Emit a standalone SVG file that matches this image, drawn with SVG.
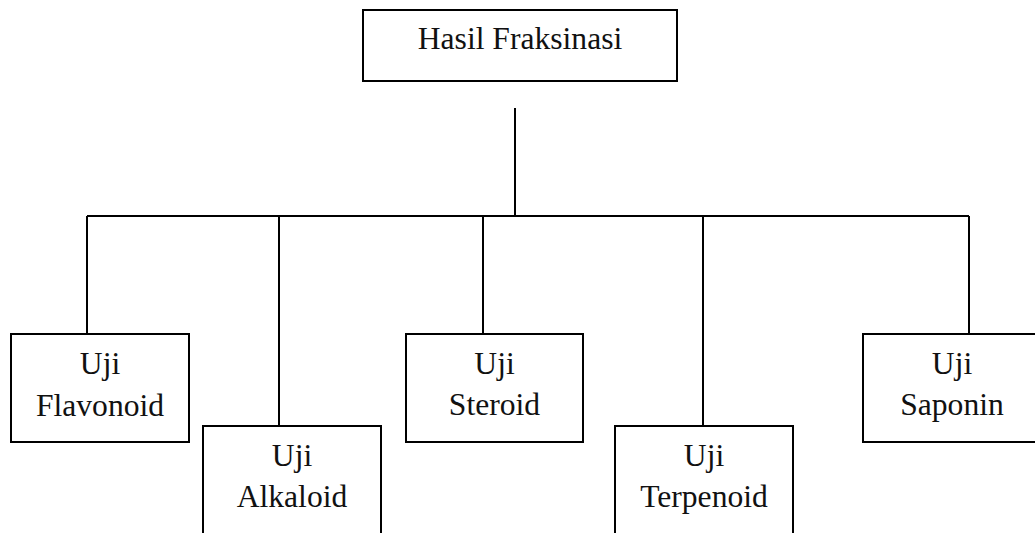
<svg xmlns="http://www.w3.org/2000/svg" width="1035" height="533" viewBox="0 0 1035 533">
<style>
.box{fill:#fff;stroke:#000;stroke-width:2}
.ln{fill:none;stroke:#000;stroke-width:2}
.t{font-size:31.6px;fill:#111;text-anchor:middle}
</style>
<rect width="1035" height="533" fill="#fff"/>
<g id="connectors">
<path class="ln" d="M515 108V216M87 216H969M87 216V334M279 216V426M483 216V334M703 216V426M969 216V334"/>
</g>
<g font-family="Liberation Serif, Times New Roman, DejaVu Serif, serif">
<g id="hasil">
<rect class="box" x="363" y="10" width="314" height="71"/>
<text class="t" x="520" y="49">Hasil Fraksinasi</text>
</g>
<g id="flavonoid">
<rect class="box" x="11" y="334" width="178" height="108"/>
<text class="t" x="100" y="374">Uji</text>
<text class="t" x="100" y="416">Flavonoid</text>
</g>
<g id="alkaloid">
<rect class="box" x="203" y="426" width="178" height="120"/>
<text class="t" x="292" y="466">Uji</text>
<text class="t" x="292" y="507">Alkaloid</text>
</g>
<g id="steroid">
<rect class="box" x="406" y="334" width="177" height="108"/>
<text class="t" x="494.5" y="374">Uji</text>
<text class="t" x="494.5" y="415">Steroid</text>
</g>
<g id="terpenoid">
<rect class="box" x="615" y="426" width="178" height="120"/>
<text class="t" x="704" y="466">Uji</text>
<text class="t" x="704" y="507">Terpenoid</text>
</g>
<g id="saponin">
<rect class="box" x="863" y="334" width="178" height="108"/>
<text class="t" x="952" y="374">Uji</text>
<text class="t" x="952" y="415">Saponin</text>
</g>
</g>
</svg>
